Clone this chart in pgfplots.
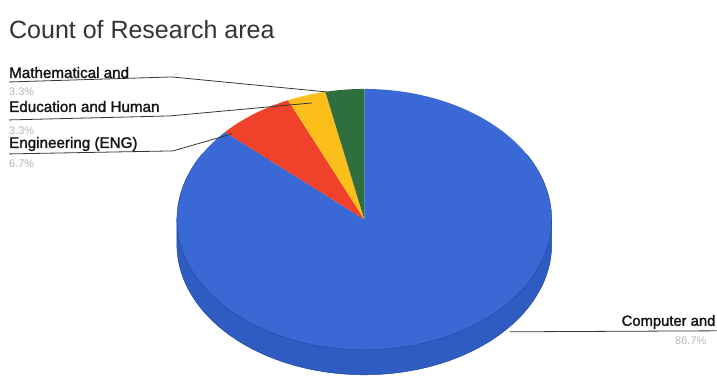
\documentclass[border=0pt]{standalone}
\usepackage{pgfplots}
\pgfplotsset{compat=1.18}
\usepackage{pgfplotstable}
\usepackage{fontspec}
\setmainfont{Liberation Sans}
\newfontfamily\labfont[FakeBold=1.6]{Liberation Sans}

\definecolor{pblue}{HTML}{3A68D4}
\definecolor{pside}{HTML}{2F5CC2}
\definecolor{pred}{HTML}{F0412B}
\definecolor{pyellow}{HTML}{FBBE1B}
\definecolor{pgreen}{HTML}{2F6E3F}
\definecolor{pedge}{HTML}{23449A}
\definecolor{lead}{HTML}{353535}
\definecolor{pct}{HTML}{B4B4B4}

\pgfplotstableread{
area count
Computer 26
Engineering 2
Education 1
Mathematical 1
}\datatable

\pgfplotstablegetelem{0}{count}\of\datatable \edef\nA{\pgfplotsretval}
\pgfplotstablegetelem{1}{count}\of\datatable \edef\nB{\pgfplotsretval}
\pgfplotstablegetelem{2}{count}\of\datatable \edef\nC{\pgfplotsretval}
\pgfplotstablegetelem{3}{count}\of\datatable \edef\nD{\pgfplotsretval}
\pgfmathsetmacro{\tot}{\nA+\nB+\nC+\nD}
% clockwise from 12 o'clock
\pgfmathsetmacro{\aA}{90}
\pgfmathsetmacro{\aB}{\aA-360*\nA/\tot}
\pgfmathsetmacro{\aC}{\aB-360*\nB/\tot}
\pgfmathsetmacro{\aD}{\aC-360*\nC/\tot}
\pgfmathsetmacro{\aE}{\aD-360*\nD/\tot}

\def\cx{364.5}
\def\cy{219.5}
\def\rx{187.5}
\def\ry{130.5}
\def\dep{25}

\begin{document}
\begin{tikzpicture}
\begin{axis}[
  width=717pt, height=379pt, scale only axis,
  xmin=0, xmax=717, ymin=0, ymax=379, y dir=reverse,
  hide axis, clip=false,
]
% side of the 3D pie
\addplot[fill=pside, draw=pedge, line width=0.5pt, domain=180:360, samples=120, variable=\t]
  ({\cx+\rx*cos(\t)}, {\cy-\ry*sin(\t)+\dep}) -- (axis cs:\cx+\rx,\cy) -- (axis cs:\cx-\rx,\cy) -- cycle;
% slices
\addplot[fill=pblue, draw=none, domain=\aB:\aA, samples=200, variable=\t]
  ({\cx+\rx*cos(\t)}, {\cy-\ry*sin(\t)}) -- (axis cs:\cx,\cy) -- cycle;
\addplot[fill=pred, draw=none, domain=\aC:\aB, samples=30, variable=\t]
  ({\cx+\rx*cos(\t)}, {\cy-\ry*sin(\t)}) -- (axis cs:\cx,\cy) -- cycle;
\addplot[fill=pyellow, draw=none, domain=\aD:\aC, samples=20, variable=\t]
  ({\cx+\rx*cos(\t)}, {\cy-\ry*sin(\t)}) -- (axis cs:\cx,\cy) -- cycle;
\addplot[fill=pgreen, draw=none, domain=\aE:\aD, samples=20, variable=\t]
  ({\cx+\rx*cos(\t)}, {\cy-\ry*sin(\t)}) -- (axis cs:\cx,\cy) -- cycle;
% outline of top face (lower half)
\addplot[draw=pedge, line width=0.4pt, domain=150:390, samples=150, variable=\t]
  ({\cx+\rx*cos(\t)}, {\cy-\ry*sin(\t)});

% leader lines
\draw[lead, line width=0.8pt] (axis cs:9,82) -- (axis cs:172,77) -- (axis cs:327,92);
\draw[lead, line width=0.8pt] (axis cs:9,120) -- (axis cs:170,116) -- (axis cs:312,103);
\draw[lead, line width=0.8pt] (axis cs:9,154) -- (axis cs:173,151) -- (axis cs:232,134);
\draw[lead, line width=0.8pt] (axis cs:510,332) -- (axis cs:717,331);

% title
\node[anchor=west, inner sep=0pt, text=black!80, font=\fontsize{25}{28}\selectfont]
  at (axis cs:9,30) {Count of Research area};

% labels
\node[anchor=base west, inner sep=0pt, text=black!92, font=\labfont\fontsize{15.2}{18}\selectfont]
  at (axis cs:9,78) {Mathematical and};
\node[anchor=base west, inner sep=0pt, text=pct, font=\fontsize{11}{13}\selectfont]
  at (axis cs:9,96) {3.3\%};
\node[anchor=base west, inner sep=0pt, text=black!92, font=\labfont\fontsize{15.2}{18}\selectfont]
  at (axis cs:9,112) {Education and Human};
\node[anchor=base west, inner sep=0pt, text=pct, font=\fontsize{11}{13}\selectfont]
  at (axis cs:9,135) {3.3\%};
\node[anchor=base west, inner sep=0pt, text=black!92, font=\labfont\fontsize{15.2}{18}\selectfont]
  at (axis cs:9,148) {Engineering (ENG)};
\node[anchor=base west, inner sep=0pt, text=pct, font=\fontsize{11}{13}\selectfont]
  at (axis cs:9,168) {6.7\%};
\node[anchor=base east, inner sep=0pt, text=black!92, font=\labfont\fontsize{14.8}{18}\selectfont]
  at (axis cs:716,326) {Computer and};
\node[anchor=base east, inner sep=0pt, text=pct, font=\fontsize{11}{13}\selectfont]
  at (axis cs:707,345) {86.7\%};
\end{axis}
\path (current axis.south west) rectangle (current axis.north east);
\end{tikzpicture}
\end{document}
